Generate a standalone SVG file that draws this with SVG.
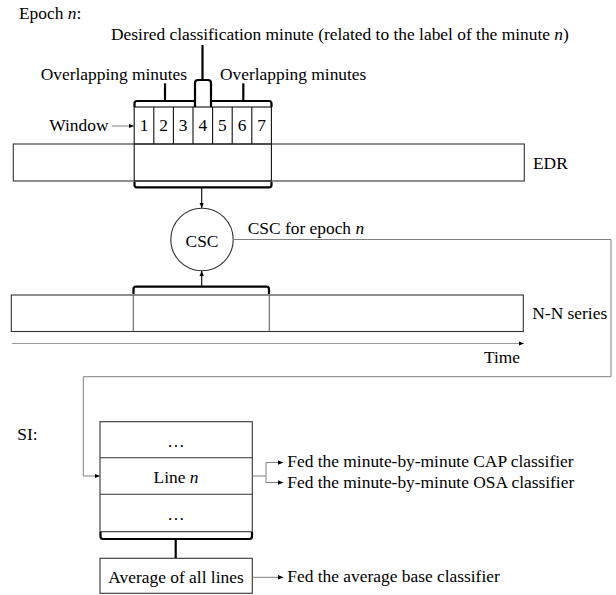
<svg xmlns="http://www.w3.org/2000/svg" width="616" height="595" viewBox="0 0 616 595">
<style>
text{font-family:"Liberation Serif","Times New Roman",serif;font-size:17.4px;fill:#000}
.c{text-anchor:middle}
.box{fill:#fff;stroke:#333;stroke-width:1.1}
.cell{fill:none;stroke:#111;stroke-width:1.1}
.br{fill:none;stroke:#000;stroke-width:2.2;stroke-linejoin:round}
.conn{fill:none;stroke:#808080;stroke-width:1}
.arr{fill:none;stroke:#000;stroke-width:1.1}
.div{stroke:#666;stroke-width:1.1}
</style>
<defs>
<marker id="ah" viewBox="0 0 6 6" refX="6" refY="3" markerWidth="5.5" markerHeight="5.5" markerUnits="userSpaceOnUse" orient="auto">
<path d="M0,0.5 L6,3 L0,5.5 Z" fill="#000"/>
</marker>
</defs>

<g id="title">
<text x="19" y="19">Epoch <tspan font-style="italic">n</tspan>:</text>
<text x="111" y="40">Desired classification minute (related to the label of the minute <tspan font-style="italic">n</tspan>)</text>
<text x="40.7" y="80">Overlapping minutes</text>
<text x="220" y="80">Overlapping minutes</text>
<text x="49.3" y="131">Window</text>
</g>

<g id="edr">
<rect class="box" x="13.3" y="144" width="511" height="37"/>
<text x="533" y="169">EDR</text>
</g>

<g id="window">
<rect class="cell" x="134.2" y="107" width="137.2" height="74"/>
<path class="cell" d="M153.8,107 V144 M173.4,107 V144 M193,107 V144 M212.6,107 V144 M232.2,107 V144 M251.8,107 V144 M134.2,144 H271.4"/>
<text class="c" x="144" y="131">1</text>
<text class="c" x="163.6" y="131">2</text>
<text class="c" x="183.2" y="131">3</text>
<text class="c" x="202.8" y="131">4</text>
<text class="c" x="222.4" y="131">5</text>
<text class="c" x="242" y="131">6</text>
<text class="c" x="261.6" y="131">7</text>
</g>

<g id="csc">
<circle cx="202" cy="239.5" r="31.2" fill="#fff" stroke="#333" stroke-width="1.1"/>
<text class="c" x="202" y="246.5">CSC</text>
<text x="247.7" y="234">CSC for epoch <tspan font-style="italic">n</tspan></text>
</g>

<g id="nn">
<rect class="box" x="11.3" y="295" width="512" height="36.5"/>
<path class="div" d="M133.3,295 V331.5 M269.3,295 V331.5"/>
<text x="532.3" y="319.3">N-N series</text>
</g>

<g id="time">
<line x1="12" y1="343.5" x2="524" y2="343.5" stroke="#999" stroke-width="1.2" marker-end="url(#ah)"/>
<text x="484" y="362.7">Time</text>
</g>

<g id="si">
<text x="17.3" y="440">SI:</text>
<rect class="box" x="100" y="421.7" width="152.3" height="110"/>
<path class="box" d="M100,457.7 H252.3 M100,494.3 H252.3"/>
<text class="c" x="176" y="446.7">…</text>
<text class="c" x="176" y="483.3">Line <tspan font-style="italic">n</tspan></text>
<text class="c" x="176" y="520">…</text>
</g>

<g id="average">
<rect class="box" x="100" y="558.3" width="152.3" height="35"/>
<text class="c" x="176" y="583.3">Average of all lines</text>
</g>

<g id="outputs">
<text x="287.3" y="467.3">Fed the minute-by-minute CAP classifier</text>
<text x="287.3" y="488.3">Fed the minute-by-minute OSA classifier</text>
<text x="287.3" y="581.7">Fed the average base classifier</text>
</g>

<g id="brackets">
<path class="br" d="M134.5,107 V103.5 Q134.5,101 137,101 H194"/>
<path class="br" d="M165,101 V83.3"/>
<path class="br" d="M195,107 V83 Q195,80 198,80 H208 Q211,80 211,83 V107"/>
<path class="br" d="M202.5,80 V45"/>
<path class="br" d="M212,101 H269 Q271.5,101 271.5,103.5 V107"/>
<path class="br" d="M243.3,101 V83.3"/>
<path class="br" d="M134.5,182 V185 Q134.5,187.3 137,187.3 H269 Q271.5,187.3 271.5,185 V182"/>
<path class="br" d="M133.5,294 V289.2 Q133.5,286.7 136,286.7 H266.5 Q269,286.7 269,289.2 V294"/>
<path class="br" d="M100.5,532 V536.5 Q100.5,539 103,539 H249.5 Q252,539 252,536.5 V532"/>
<path class="br" d="M175.7,539 V558"/>
</g>

<g id="connectors">
<line class="arr" x1="201.7" y1="187.3" x2="201.7" y2="208" marker-end="url(#ah)"/>
<line class="arr" x1="201.7" y1="286.7" x2="201.7" y2="270.8" marker-end="url(#ah)"/>
<line class="conn" x1="111.7" y1="126" x2="134" y2="126" marker-end="url(#ah)" stroke="#000"/>
<path class="conn" d="M233.2,239.5 H611 V376.7 H83.3 V476 H100" marker-end="url(#ah)"/>
<path class="conn" d="M252.3,476 H266 M266,462.5 V482.5"/>
<path class="conn" d="M266,462.5 H283.3" marker-end="url(#ah)"/>
<path class="conn" d="M266,482.5 H283.3" marker-end="url(#ah)"/>
<path class="conn" d="M252.3,577.3 H283.3" marker-end="url(#ah)"/>
</g>
</svg>
